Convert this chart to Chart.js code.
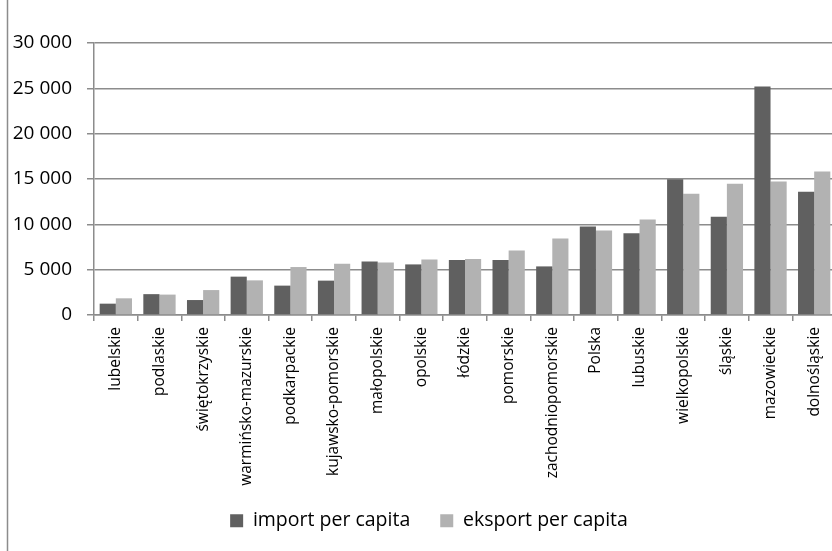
<!DOCTYPE html>
<html><head><meta charset="utf-8">
<script src="https://cdn.jsdelivr.net/npm/chart.js@4.4.1/dist/chart.umd.min.js"></script>
<style>
html,body{margin:0;padding:0;background:#fff;overflow:hidden;width:832px;height:551px}
#wrap{position:relative;width:840px;height:551px}
canvas{display:block}
</style>
</head><body><div id="wrap"><canvas id="c" width="840" height="551"></canvas></div>
<script>
const categories = ['lubelskie','podlaskie','świętokrzyskie','warmińsko-mazurskie','podkarpackie','kujawsko-pomorskie','małopolskie','opolskie','łódzkie','pomorskie','zachodniopomorskie','Polska','lubuskie','wielkopolskie','śląskie','mazowieckie','dolnośląskie'];
const importPerCapita = [1250, 2300, 1650, 4230, 3240, 3790, 5910, 5580, 6060, 6060, 5360, 9770, 9030, 14980, 10840, 25190, 13590];
const eksportPerCapita = [1840, 2250, 2750, 3820, 5290, 5660, 5800, 6130, 6180, 7120, 8450, 9330, 10540, 13370, 14470, 14720, 15830];
const yTicks = [0, 5000, 10000, 15000, 20000, 25000, 30000];
const seriesNames = ['import per capita', 'eksport per capita'];

const GRID = '#8c8c8c';
const fmt = v => String(v).replace(/\B(?=(\d{3})+(?!\d))/g, '\u00a0');

const frame = {
  id: 'frame',
  afterLayout(chart) {
    const lg = chart.legend;
    if (lg) { lg.left += 11; lg.right += 11; lg.top -= 10.5; lg.bottom -= 10.5; }
  },
  afterDraw(chart) {
    const ctx = chart.ctx;
    ctx.save();
    ctx.strokeStyle = GRID;
    ctx.lineWidth = 1.5;
    ctx.beginPath();
    ctx.moveTo(7.5, 0);
    ctx.lineTo(7.5, 551);
    ctx.stroke();
    ctx.restore();
  }
};

new Chart(document.getElementById('c'), {
  type: 'bar',
  data: {
    labels: categories,
    datasets: [
      { label: seriesNames[0], data: importPerCapita, backgroundColor: '#606060', categoryPercentage: 0.74, barPercentage: 1.0 },
      { label: seriesNames[1], data: eksportPerCapita, backgroundColor: '#b2b2b2', categoryPercentage: 0.74, barPercentage: 1.0 }
    ]
  },
  options: {
    responsive: false,
    animation: false,
    devicePixelRatio: 1,
    layout: { padding: { left: 0, top: 43, right: 4, bottom: 0 } },
    plugins: {
      legend: {
        position: 'bottom',
        labels: { boxWidth: 13, boxHeight: 13, padding: 30, color: '#000', font: { family: 'Open Sans', size: 19.5 } }
      },
      tooltip: { enabled: false }
    },
    scales: {
      x: {
        grid: { display: true, drawOnChartArea: false, drawTicks: true, tickLength: 6, color: GRID, lineWidth: 1.5, offset: true },
        border: { display: true, color: GRID, width: 1.5 },
        ticks: { minRotation: 90, maxRotation: 90, autoSkip: false, padding: 6, color: '#000', font: { family: 'Open Sans', size: 15.5 } },
        afterFit(s) { s.height = 176.5; }
      },
      y: {
        min: 0, max: 30000,
        afterBuildTicks(s) { s.ticks = yTicks.map(v => ({ value: v })); },
        grid: { color: GRID, lineWidth: 1.5, tickLength: 7, drawTicks: true },
        border: { display: true, color: GRID, width: 1.5 },
        ticks: { color: '#000', padding: 15, font: { family: 'Open Sans', size: 19 }, callback: v => fmt(v) },
        afterFit(s) { s.width = 94; }
      }
    }
  },
  plugins: [frame]
});
</script>
</body></html>
